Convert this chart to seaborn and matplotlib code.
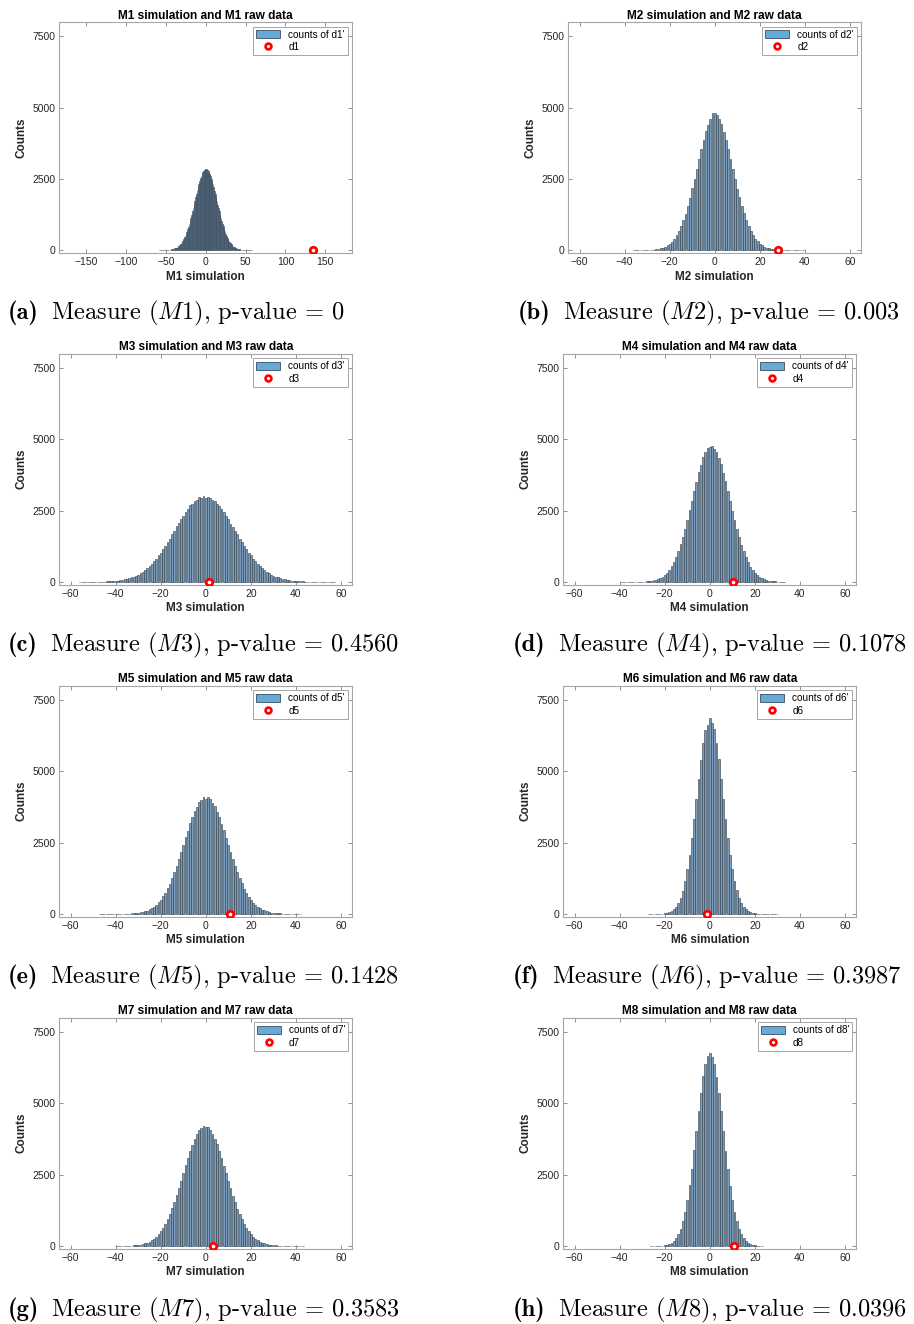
import numpy as np
import pandas as pd
import matplotlib
matplotlib.use("Agg")
import matplotlib.pyplot as plt
import seaborn as sns
from matplotlib.patches import Patch
from matplotlib.lines import Line2D

# ---------------- data ----------------
measures = ["M1", "M2", "M3", "M4", "M5", "M6", "M7", "M8"]
letters = ["a", "b", "c", "d", "e", "f", "g", "h"]
p_values = ["0", "0.003", "0.4560", "0.1078", "0.1428", "0.3987", "0.3583", "0.0396"]
raw_values = [134.5, 28.2, 1.6, 10.4, 10.8, -1.3, 3.4, 10.7]   # observed d1..d8
starts = [-60, -36, -56, -39, -47, -27, -40, -26]               # first integer bin

m1_counts = [1, 0, 1, 1, 1, 1, 2, 2, 3, 4, 5, 7, 8, 9, 13, 17, 20, 26, 31, 40,
             47, 60, 71, 88, 104, 127, 146, 179, 206, 247, 286, 335, 383, 447, 505,
             582, 653, 741, 826, 930, 1022, 1138, 1241, 1366, 1478, 1610, 1726, 1858,
             1970, 2097, 2204, 2322, 2415, 2519, 2594, 2678, 2731, 2790, 2817, 2846,
             2852,
             2838, 2826, 2779, 2741, 2668, 2604, 2509, 2425, 2311, 2214, 2087, 1980,
             1848, 1735, 1600, 1487, 1357, 1249, 1130, 1030, 922, 833, 735, 659, 575,
             510, 441, 388, 330, 291, 242, 210, 175, 150, 123, 106, 85, 73, 58, 49,
             38, 33, 24, 22, 15, 13, 9, 8, 6, 5, 4, 3, 2, 2, 1, 1, 1, 1]
m2_counts = [1, 1, 1, 2, 2, 4, 6, 8, 12, 19, 30, 41, 60, 86, 125, 165, 231, 300, 406,
             518, 673, 838, 1052, 1281, 1556, 1840, 2171, 2497, 2860, 3198, 3552, 3864,
             4170, 4405, 4612, 4808,
             4826, 4735, 4601, 4418, 4155, 3879, 3540, 3212, 2848, 2510, 2160, 1852,
             1547, 1290, 1044, 848, 665, 526, 398, 309, 225, 170, 120, 90, 61, 44, 28,
             21, 13, 9, 6, 4, 3, 2, 1, 1, 1, 0, 1, 1]
m3_counts = [1, 1, 1, 1, 2, 2, 3, 4, 5, 7, 9, 11, 15, 17, 23, 30, 35, 46, 55, 72,
             83, 106, 124, 155, 180, 221, 253, 307, 349, 418, 470, 556, 624, 725, 806,
             925, 1013, 1152, 1255, 1405, 1510, 1672, 1780, 1945, 2052, 2210, 2315,
             2465, 2540, 2690, 2735, 2845, 2880, 2972, 2940, 3010,
             2935, 2962, 2930, 2870, 2842, 2730, 2675, 2540, 2455, 2310, 2210, 2045,
             1940, 1775, 1670, 1505, 1400, 1250, 1152, 1010, 925, 800, 728, 620, 558,
             470, 418, 348, 305, 250, 220, 178, 154, 122, 106, 83, 71, 54, 46, 35, 30,
             22, 18, 13, 11, 8, 7, 5, 4, 3, 2, 2, 1, 1, 1, 1, 1, 1]
m4_counts = [1, 0, 1, 1, 1, 1, 2, 3, 5, 7, 10, 14, 23, 32, 48, 67, 96, 130, 182, 240,
             325, 418, 545, 688, 870, 1066, 1310, 1566, 1866, 2170, 2512, 2840, 3195,
             3515, 3840, 4108, 4362, 4538, 4682, 4735,
             4750, 4668, 4550, 4348, 4120, 3828, 3527, 3180, 2852, 2500, 2180, 1855,
             1575, 1300, 1075, 860, 694, 538, 424, 318, 245, 178, 133, 93, 70, 46, 34,
             21, 15, 10, 7, 4, 3]
m5_counts = [1, 1, 0, 1, 1, 1, 1, 1, 2, 2, 3, 4, 6, 9, 13, 18, 27, 34, 49, 64,
             88, 114, 153, 195, 255, 316, 404, 492, 615, 738, 893, 1058, 1255, 1450,
             1688, 1910, 2172, 2410, 2680, 2918, 3170, 3385, 3602, 3760, 3925, 4005,
             4095,
             4040,
             4085, 4020, 3902, 3775, 3585, 3398, 3158, 2932, 2665, 2425, 2158, 1925,
             1672, 1465, 1244, 1068, 885, 748, 604, 502, 396, 322, 248, 198, 149, 118,
             85, 66, 47, 36, 25, 18, 13, 9, 6, 4, 3, 2, 2, 1, 1, 1]
m6_counts = [1, 1, 1, 2, 3, 5, 10, 19, 33, 58, 97, 157, 250, 378, 568, 817, 1152,
             1565, 2078, 2660, 3330, 4022, 4740, 5405, 6005, 6450, 6620,
             6850,
             6700, 6470, 5990, 5418, 4730, 4035, 3320, 2670, 2070, 1570, 1146, 822,
             564, 382, 246, 158, 96, 58, 33, 19, 10, 5, 3, 2, 1, 1, 1, 1, 1, 1]
m7_counts = [1, 2, 2, 3, 4, 6, 8, 12, 17, 23, 35, 46, 65, 85, 115, 150, 198, 255,
             322, 410, 508, 633, 768, 932, 1105, 1315, 1525, 1772, 2015, 2285, 2540,
             2820, 3070, 3330, 3548, 3760, 3918, 4065, 4140, 4210,
             4180, 4152, 4050, 3930, 3745, 3560, 3318, 3082, 2808, 2552, 2272, 2025,
             1760, 1535, 1305, 1115, 925, 774, 628, 515, 405, 327, 250, 199, 148, 116,
             84, 65, 46, 35, 23, 18, 11, 8, 6, 4, 3, 2, 2, 1, 1, 1, 1, 1]
m8_counts = [1, 1, 2, 4, 7, 12, 22, 39, 65, 108, 172, 272, 406, 604, 858, 1198, 1612,
             2125, 2698, 3355, 4028, 4725, 5362, 5940, 6380, 6648,
             6760,
             6620, 6370, 5930, 5375, 4715, 4040, 3340, 2710, 2112, 1620, 1190, 865,
             598, 412, 268, 175, 106, 66, 38, 22, 12, 7, 4]

all_counts = [m1_counts, m2_counts, m3_counts, m4_counts,
              m5_counts, m6_counts, m7_counts, m8_counts]

# ---------------- style ----------------
plt.rcParams["font.family"] = ["Liberation Sans", "DejaVu Sans"]
plt.rcParams["mathtext.fontset"] = "cm"

W, H = 914, 1324
fig = plt.figure(figsize=(W / 100, H / 100), dpi=100)

ax_left = [59.3, 568.3, 59.3, 563.3, 59.3, 563.3, 59.3, 563.3]
ax_top = [22, 22, 353.7, 353.7, 685.7, 685.7, 1017.7, 1017.7]
ax_w, ax_h = 293, 231
cap_x = [8, 518, 8, 513, 8, 513, 8, 513]
cap_y = [313, 313, 645, 645, 977, 977, 1310, 1310]

bar_color = "#7b9dbb"
edge_col = "#2a3a4a"
spine_col = "#a6a6a6"
text_col = "#262626"

renderer = fig.canvas.get_renderer()

for i in range(8):
    counts = np.array(all_counts[i])
    xs = np.arange(starts[i], starts[i] + len(counts))
    df = pd.DataFrame({"value": xs, "count": counts})
    ax = fig.add_axes([ax_left[i] / W, 1 - (ax_top[i] + ax_h) / H, ax_w / W, ax_h / H])
    sns.histplot(data=df, x="value", weights="count", discrete=True, ax=ax,
                 shrink=0.8, color=bar_color, alpha=1.0, edgecolor=edge_col,
                 linewidth=0.4)
    sns.scatterplot(x=[raw_values[i]], y=[0], ax=ax, marker="o", s=22,
                    color="white", edgecolor="red", linewidth=2.0, zorder=5,
                    legend=False)
    m = measures[i]
    if i == 0:
        ax.set_xlim(-184, 184)
        ax.set_xticks([-150, -100, -50, 0, 50, 100, 150])
    else:
        ax.set_xlim(-65, 65)
        ax.set_xticks([-60, -40, -20, 0, 20, 40, 60])
    ax.set_ylim(-100, 8000)
    ax.set_yticks([0, 2500, 5000, 7500])
    ax.set_title(f"{m} simulation and {m} raw data", fontsize=8.6,
                 fontweight="bold", pad=2.5, color="black")
    ax.set_xlabel(f"{m} simulation", fontsize=8.5, fontweight="bold",
                  labelpad=2.5, color=text_col)
    ax.set_ylabel("Counts", fontsize=8.5, fontweight="bold", labelpad=3.5,
                  color=text_col)
    ax.tick_params(direction="in", top=True, right=True, length=3, width=0.6,
                   color="#7f7f7f", labelsize=7.5, labelcolor=text_col, pad=3)
    for sp in ax.spines.values():
        sp.set_color(spine_col)
        sp.set_linewidth(0.8)
    d = m[1]
    handles = [Patch(facecolor="#66AAD7", edgecolor="#3a4f62", linewidth=0.6),
               Line2D([], [], marker="o", ls="none", mec="red", mfc="white",
                      ms=4.2, mew=1.9)]
    leg = ax.legend(handles, [f"counts of d{d}'", f"d{d}"], loc="upper right",
                    fontsize=7.2, frameon=True, fancybox=False, framealpha=1,
                    edgecolor="#a6a6a6", handlelength=2.4, handleheight=0.9,
                    borderaxespad=0.45, borderpad=0.3, labelspacing=0.25,
                    handletextpad=0.8)
    leg.get_frame().set_linewidth(0.7)

    # caption: bold label, then the rest in Computer Modern roman
    t1 = fig.text(cap_x[i] / W, 1 - cap_y[i] / H, f"({letters[i]})",
                  fontfamily="cmb10", fontsize=17.6, ha="left", va="center",
                  color="black")
    bb = t1.get_window_extent(renderer)
    rest = r"Measure $(" + m + r")$, p-value = " + p_values[i]
    fig.text((bb.x1 + 12) / W, 1 - cap_y[i] / H, rest, fontfamily="cmr10",
             fontsize=17.6, ha="left", va="center", color="black")

fig.savefig("out.png", dpi=100)
